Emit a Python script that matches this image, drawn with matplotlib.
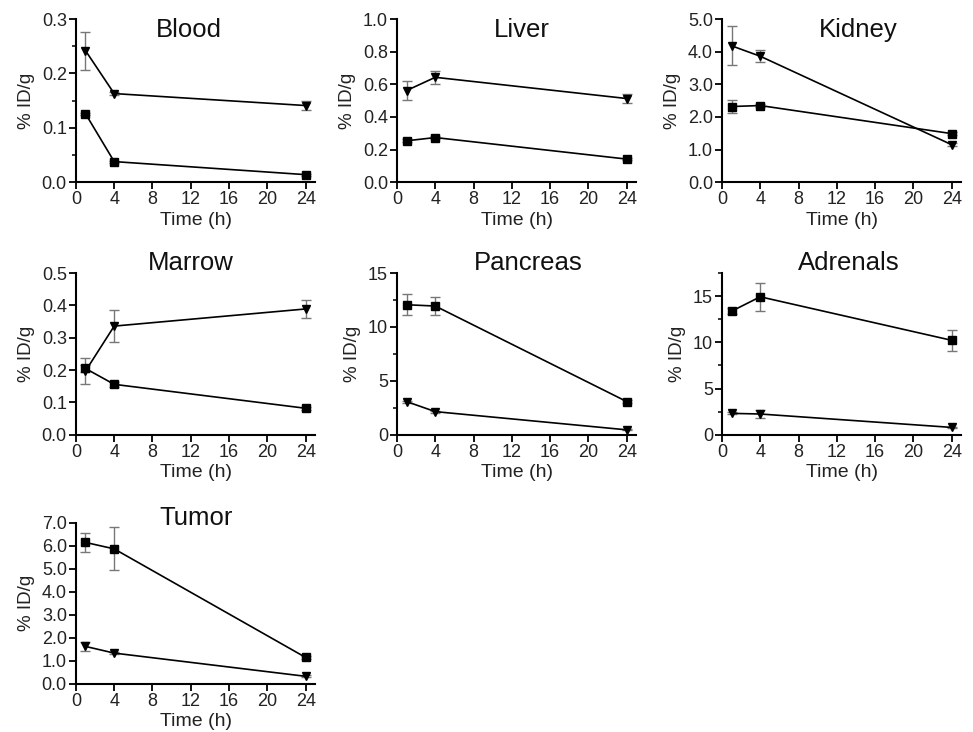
import numpy as np
import matplotlib
matplotlib.use("Agg")
import matplotlib.pyplot as plt
from matplotlib.ticker import MultipleLocator

plt.rcParams['font.family'] = ['Liberation Sans', 'DejaVu Sans']

hours = [1, 4, 24]
organs = ["Blood", "Liver", "Kidney", "Marrow", "Pancreas", "Adrenals", "Tumor"]

# square series (mean, sd)
sq_mean = [
    [0.126, 0.038, 0.014],
    [0.254, 0.274, 0.142],
    [2.32, 2.35, 1.49],
    [0.205, 0.156, 0.082],
    [12.06, 11.94, 3.08],
    [13.37, 14.93, 10.22],
    [6.14, 5.86, 1.14],
]
sq_err = [
    [0.002, 0.002, 0.002],
    [0.01, 0.01, 0.008],
    [0.2, 0.05, 0.05],
    [0.01, 0.008, 0.004],
    [0.95, 0.85, 0.15],
    [0.3, 1.5, 1.1],
    [0.43, 0.94, 0.08],
]
# triangle series (mean, sd)
tri_mean = [
    [0.242, 0.163, 0.141],
    [0.562, 0.643, 0.513],
    [4.18, 3.86, 1.15],
    [0.197, 0.336, 0.389],
    [3.08, 2.15, 0.46],
    [2.32, 2.25, 0.80],
    [1.62, 1.33, 0.32],
]
tri_err = [
    [0.035, 0.003, 0.008],
    [0.06, 0.04, 0.03],
    [0.6, 0.19, 0.05],
    [0.04, 0.05, 0.027],
    [0.1, 0.1, 0.05],
    [0.1, 0.45, 0.05],
    [0.18, 0.06, 0.04],
]

# y axis: top, major step, minor step, tick format
y_top = [0.3, 1.0, 5.0, 0.5, 15, 17.5, 7.0]
y_major = [0.1, 0.2, 1.0, 0.1, 5, 5, 1.0]
y_minor = [0.05, None, None, None, 2.5, 2.5, None]
y_fmt = ["%.1f", "%.1f", "%.1f", "%.1f", "%d", "%d", "%.1f"]

fig = plt.figure(figsize=(9.73, 7.32), dpi=100)

lefts = [0.078, 0.408, 0.742]
bottoms = [0.751, 0.406, 0.066]
heights = [0.223, 0.221, 0.220]
title_y = [0.93, 1.06, 1.03]
title_x = [0.47, 0.52, 0.57, 0.48, 0.55, 0.53, 0.50]

for i, name in enumerate(organs):
    r, c = divmod(i, 3)
    ax = fig.add_axes([lefts[c], bottoms[r], 0.246, heights[r]])

    ax.errorbar(hours, sq_mean[i], yerr=sq_err[i], fmt="none", ecolor="#777777",
                elinewidth=1, capsize=3.5, capthick=1, zorder=1)
    ax.errorbar(hours, tri_mean[i], yerr=tri_err[i], fmt="none", ecolor="#777777",
                elinewidth=1, capsize=3.5, capthick=1, zorder=1)
    ax.plot(hours, sq_mean[i], color="black", lw=1.2, marker="s", ms=5.5, zorder=3)
    ax.plot(hours, tri_mean[i], color="black", lw=1.2, marker="v", ms=6, zorder=3)

    ax.set_xlim(0, 25)
    ax.set_ylim(0, y_top[i])
    ax.xaxis.set_major_locator(MultipleLocator(4))
    ax.yaxis.set_major_locator(MultipleLocator(y_major[i]))
    if y_minor[i]:
        ax.yaxis.set_minor_locator(MultipleLocator(y_minor[i]))
    ax.yaxis.set_major_formatter(plt.FormatStrFormatter(y_fmt[i]))

    for s in ["top", "right"]:
        ax.spines[s].set_visible(False)
    for s in ["left", "bottom"]:
        ax.spines[s].set_linewidth(1.5)
    ax.tick_params(which="major", direction="out", length=5, width=1.3,
                   labelsize=13, pad=1.5, labelcolor="#222222")
    ax.tick_params(which="minor", direction="out", length=3, width=1.1)

    ax.set_xlabel("Time (h)", fontsize=14, labelpad=2.5, color="#222222")
    ax.set_ylabel("% ID/g", fontsize=13.5, labelpad=5, color="#222222")
    ax.text(title_x[i], title_y[r], name, transform=ax.transAxes,
            ha="center", va="center", fontsize=18.5, color="#111111")

fig.savefig("out.png", dpi=100)
